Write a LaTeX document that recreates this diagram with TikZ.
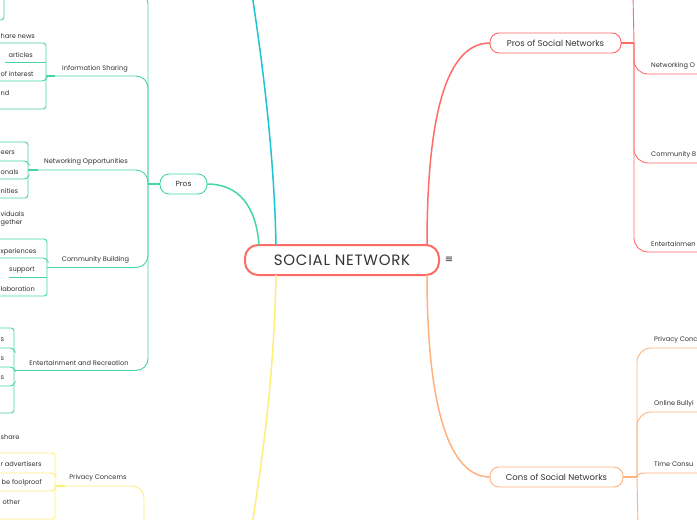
\documentclass[tikz,border=0pt]{standalone}
\usepackage{fontspec}
\setmainfont{Poppins}
\newfontfamily\symfont{DejaVu Sans}
\newfontfamily\titlefont{Poppins}[LetterSpace=5]
\definecolor{cred}{HTML}{FF6B66}
\definecolor{cgreen}{HTML}{45D6A2}
\definecolor{ccyan}{HTML}{1CC4D6}
\definecolor{cyellow}{HTML}{FFEE77}
\definecolor{corange}{HTML}{FFB27F}
\definecolor{txt}{HTML}{333333}
\begin{document}
\begin{tikzpicture}[x=1pt,y=-1pt,
  lbl/.style={font=\fontsize{6.6}{8}\selectfont, text=txt, inner sep=0pt},
  leaf/.style={lbl, anchor=east},
  leafw/.style={lbl, anchor=west},
  rlbl/.style={lbl, anchor=west},
  gbox/.style={draw=cgreen, line width=0.9pt, rounded corners=3pt, inner sep=0pt, outer sep=0pt, anchor=north east, minimum width=90pt},
  ybox/.style={gbox, draw=cyellow},
  gl/.style={draw=cgreen, line width=0.9pt},
  yl/.style={draw=cyellow, line width=0.9pt},
  rl/.style={draw=cred, line width=0.9pt},
  ol/.style={draw=corange, line width=0.9pt},
  stub/.style={line width=1.8pt},
  subnode/.style={draw, line width=0.9pt, rounded corners=9pt, minimum height=20pt, inner sep=0pt, outer sep=0pt, text=txt, font=\fontsize{8.5}{10}\selectfont},
]
\fill[white] (0,0) rectangle (697,520);
\useasboundingbox (0,0) rectangle (697,520);

% ---------- central node ----------
\node[draw=cred, line width=2pt, rounded corners=13pt, minimum width=194pt, minimum height=30pt,
      inner sep=0pt, outer sep=0pt, text=txt, font=\titlefont\fontsize{15}{16}\selectfont] (root) at (342,260) {SOCIAL NETWORK};
\node[text=txt, font=\symfont\fontsize{10}{10}\selectfont, inner sep=0pt] (menu) at (449,260) {≡};

% ---------- first-level nodes ----------
\node[subnode, draw=cgreen, minimum width=47pt, font=\fontsize{7.5}{9}\selectfont] (pros) at (183.5,184) {Pros};
\node[subnode, draw=cred, minimum width=131pt] (prosSN) at (555.5,43) {Pros of Social Networks};
\node[subnode, draw=corange, minimum width=133pt] (consSN) at (556.5,477) {Cons of Social Networks};

\coordinate (cyanEnd) at (252,-6);
\coordinate (yelEnd) at (252,526);
\draw[draw=ccyan, line width=1.5pt] ([xshift=31pt]root.north west) .. controls (274,150) and (262,60) .. (cyanEnd);
\draw[draw=cyellow, line width=1.5pt] ([xshift=31pt]root.south west) .. controls (274,380) and (262,460) .. (yelEnd);
\draw[draw=cgreen, line width=1.5pt] ([xshift=14pt]root.north west) .. controls (256,205) and (238,184) .. (pros.east);
\draw[draw=cred, line width=1.5pt] ([xshift=182pt]root.north west) .. controls (427,110) and (448,43) .. (prosSN.west);
\draw[draw=corange, line width=1.5pt] ([xshift=182pt]root.south west) .. controls (427,410) and (450,477) .. (consSN.west);

% ---------- Pros (left, green) ----------
\coordinate (pt) at (148,184);
\draw[gl, stub] (pros.west) -- (pt);
\coordinate (gTopEnd) at (40,-8);
\draw[gl, rounded corners=12pt] (pt) |- (gTopEnd);

% top box (cut)
\node[gbox, minimum height=60pt, anchor=south east] (topBox) at (4,20) {};

% Information Sharing
\node[gbox, minimum height=66pt] (infoBox) at (46,43) {};
\draw[gl] (5,62) -- (infoBox.east |- 0,62);
\draw[gl, rounded corners=3pt] (-10,81) -- (45,81) -- (46,79);
\node[lbl] (infoLbl) at (95,69) {Information Sharing};
\draw[gl, rounded corners=12pt] (pt) |- (infoBox.east);
\draw[gl, stub] (infoBox.east) -- ++(9,0);
\node[leafw] (i0) at (0.5,36) {hare news};
\node[leaf] (i1) at (33,55) {articles};
\node[leafw] (i2) at (0.5,74) {of interest};
\node[leafw] (i3) at (0.5,93) {nd};

% Networking Opportunities
\node[gbox, minimum height=56pt] (netBox) at (28,142) {};
\draw[gl, rounded corners=3pt] (-10,161) -- (27,161) -- (28,163);
\draw[gl, rounded corners=3pt] (-10,179) -- (27,179) -- (28,177);
\node[lbl] (netLbl) at (86,162) {Networking Opportunities};
\draw[gl, rounded corners=12pt] (pt) |- (netBox.east);
\draw[gl, stub] (netBox.east) -- ++(10,0);
\node[leafw] (n1) at (0.5,153) {eers};
\node[leafw] (n2) at (0.5,172) {onals};
\node[leafw] (n3) at (0.5,191) {nities};
\node[leafw, align=left] (n4) at (0.5,219) {viduals\\gether};

% Community Building
\node[gbox, minimum height=57pt] (comBox) at (47,239) {};
\draw[gl, rounded corners=3pt] (-10,258) -- (46,258) -- (47,260);
\draw[gl] (9,277) -- (comBox.east |- 0,277);
\node[lbl] (comLbl) at (95.5,260) {Community Building};
\draw[gl, rounded corners=12pt] (pt) |- (comBox.east);
\draw[gl, stub] (comBox.east) -- ++(10,0);
\node[leafw] (c1) at (0.5,252) {xperiences};
\node[leaf] (c2) at (35,270) {support};
\node[leafw] (c3) at (0.5,289) {laboration};

% Entertainment and Recreation
\node[gbox, minimum height=85pt] (entBox) at (14,328) {};
\draw[gl, rounded corners=3pt] (-10,348) -- (13,348) -- (14,350);
\draw[gl, rounded corners=3pt] (-10,367) -- (13,367) -- (14,369);
\draw[gl, rounded corners=3pt] (-10,386) -- (13,386) -- (14,384);
\node[lbl] (entLbl) at (79,363) {Entertainment and Recreation};
\draw[gl, rounded corners=12pt] (pt) |- (entBox.east);
\draw[gl, stub] (entBox.east) -- ++(10,0);
\node[leafw] (e1) at (0.5,340) {s};
\node[leafw] (e2) at (0.5,359) {s};
\node[leafw] (e3) at (0.5,378) {s};
\node[leafw] (e4) at (0.5,437) {share};

% Privacy Concerns (yellow, cut)
\coordinate (yTrunk) at (144,526);
\node[ybox, minimum height=66pt] (privBox) at (55,453) {};
\draw[yl, rounded corners=3pt] (-10,473) -- (54,473) -- (55,475);
\draw[yl, rounded corners=3pt] (-10,491) -- (54,491) -- (55,489);
\node[lbl] (privLbl) at (98,478) {Privacy Concerns};
\draw[yl, rounded corners=12pt] (yTrunk) |- (privBox.east);
\draw[yl, stub] (privBox.east) -- ++(10,0);
\node[leafw] (p1) at (0.5,464) {r advertisers};
\node[leafw] (p2) at (1.5,483) {be foolproof};
\node[leafw] (p3) at (2.5,502) {other};

% ---------- Pros of Social Networks (right, red) ----------
\coordinate (rt) at (634,43);
\coordinate (rTop) at (633,-6);
\coordinate (rN) at (710,74);
\coordinate (rC) at (710,163);
\coordinate (rE) at (710,252);
\draw[rl, stub] (prosSN.east) -- (rt);
\draw[rl] (rt) -- (rTop);
\draw[rl, rounded corners=14pt] (rt) |- (rN);
\draw[rl, rounded corners=14pt] (rt) |- (rC);
\draw[rl, rounded corners=14pt] (rt) |- (rE);
\node[rlbl] (rNL) at (651,66) {Networking O};
\node[rlbl] (rCL) at (651,155) {Community B};
\node[rlbl] (rEL) at (651,244) {Entertainmen};

% ---------- Cons of Social Networks (right, orange) ----------
\coordinate (ot) at (637,477);
\coordinate (oP) at (710,348);
\coordinate (oB) at (710,412);
\coordinate (oT) at (710,473);
\coordinate (oDown) at (638,526);
\draw[ol, stub] (consSN.east) -- (ot);
\draw[ol, rounded corners=14pt] (ot) |- (oP);
\draw[ol, rounded corners=14pt] (ot) |- (oB);
\draw[ol] (ot) .. controls (639,473) .. (650,473) -- (oT);
\draw[ol] (ot) -- (oDown);
\node[rlbl] (oPL) at (654,340) {Privacy Conc};
\node[rlbl] (oBL) at (654,404) {Online Bullyi};
\node[rlbl] (oTL) at (654,464) {Time Consu};
\end{tikzpicture}
\end{document}
